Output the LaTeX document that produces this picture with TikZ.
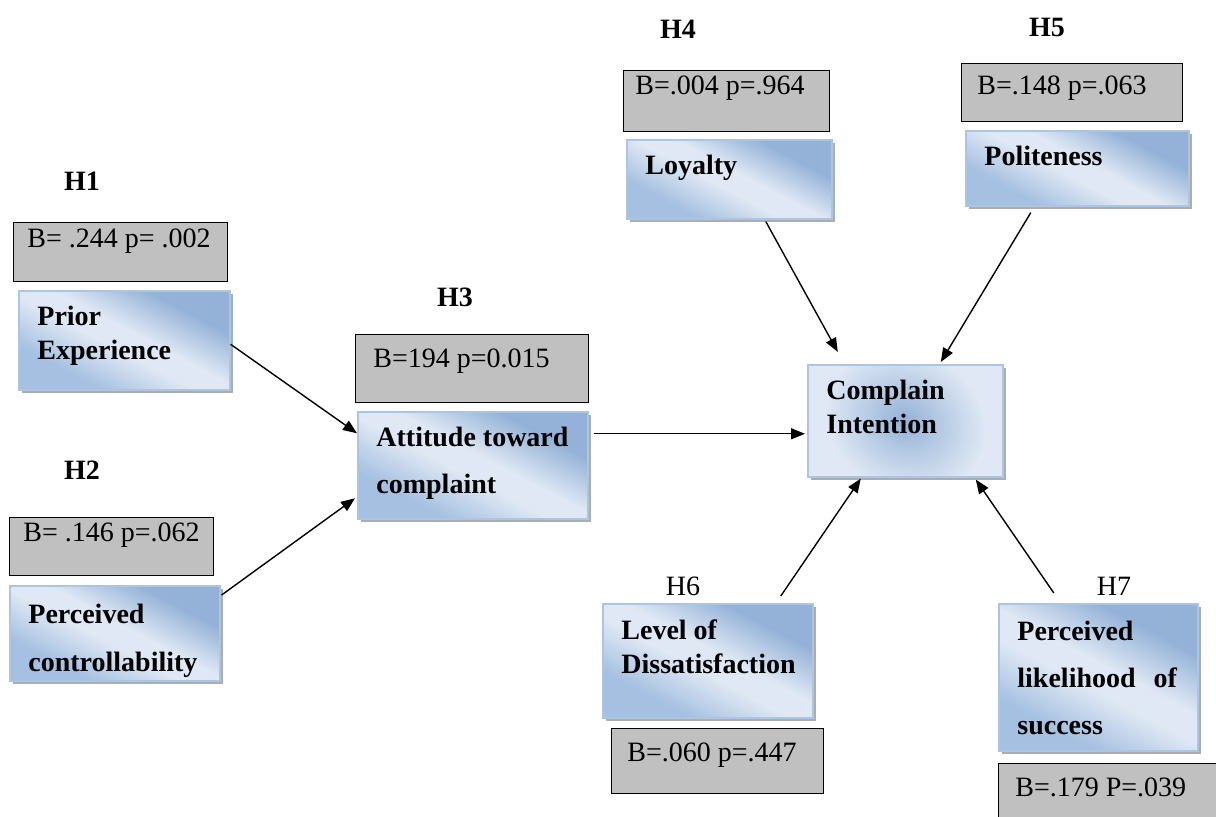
\documentclass[tikz,border=0pt]{standalone}
\usepackage{fontspec}
\setmainfont{Liberation Serif}
\usetikzlibrary{arrows.meta,calc,shadows}
\definecolor{lt}{RGB}{223,232,244}
\definecolor{md}{RGB}{165,192,225}
\definecolor{dk}{RGB}{148,178,215}
\definecolor{edge}{RGB}{172,197,228}
\definecolor{silver}{RGB}{192,192,192}
\pgfdeclarehorizontalshading{vshade}{100bp}{color(0bp)=(md); color(30bp)=(md);
  color(46bp)=(lt); color(54bp)=(lt); color(70bp)=(dk); color(100bp)=(dk)}
\tikzset{
  cons/.style={draw=edge, line width=0.8pt, shading=vshade, shading angle=62,
               anchor=north west, inner sep=0pt,
               drop shadow={shadow xshift=1.5pt, shadow yshift=-1.5pt, fill=black!40, opacity=.8}},
  coef/.style={draw, line width=0.7pt, fill=silver, anchor=north west, inner sep=0pt},
  ktxt/.style={anchor=north west, inner sep=0pt, align=left, xshift=9.5pt, yshift=-8pt,
               font=\bfseries\fontsize{14}{17}\selectfont},
  ctxt/.style={anchor=north west, inner sep=0pt, font=\fontsize{14}{17}\selectfont},
  hyp/.style={inner sep=0pt, font=\bfseries\fontsize{14}{17}\selectfont},
  lnk/.style={-{Triangle[length=7pt,width=5.5pt]}, line width=0.7pt},
}
\begin{document}
\begin{tikzpicture}[x=0.5pt,y=-0.5pt]
  \useasboundingbox (0,0) rectangle (1216,817);
  \clip (0,0) rectangle (1216,817);
  % hypotheses
  \node[hyp] (h1) at (82,181) {H1};
  \node[hyp] (h2) at (82,470) {H2};
  \node[hyp] (h3) at (455,297) {H3};
  \node[hyp] (h4) at (678,29) {H4};
  \node[hyp] (h5) at (1047,27) {H5};
  \node[hyp,font=\fontsize{14}{17}\selectfont] (h6) at (683,586) {H6};
  \node[hyp,font=\fontsize{14}{17}\selectfont] (h7) at (1114,586) {H7};
  % coefficients
  \node[coef,minimum width=107pt,minimum height=29.5pt,
        label={[ctxt,xshift=7pt,yshift=-3pt]north west:B= .244 p= .002}] (c1) at (13,222) {};
  \node[coef,minimum width=102pt,minimum height=29pt,
        label={[ctxt,xshift=7pt,yshift=-2.5pt]north west:B= .146 p=.062}] (c2) at (9,517) {};
  \node[coef,minimum width=116.5pt,minimum height=34pt,
        label={[ctxt,xshift=9pt,yshift=-7pt]north west:B=194 p=0.015}] (c3) at (355,334) {};
  \node[coef,minimum width=103pt,minimum height=30.5pt,
        label={[ctxt,xshift=6pt,yshift=-2.5pt]north west:B=.004 p=.964}] (c4) at (623,70) {};
  \node[coef,minimum width=110.5pt,minimum height=29pt,
        label={[ctxt,xshift=8pt,yshift=-6pt]north west:B=.148 p=.063}] (c5) at (961,63) {};
  \node[coef,minimum width=106pt,minimum height=32.5pt,
        label={[ctxt,xshift=8pt,yshift=-7pt]north west:B=.060 p=.447}] (c6) at (611,728) {};
  \node[coef,minimum width=115pt,minimum height=40pt,
        label={[ctxt,xshift=8.5pt,yshift=-7pt]north west:B=.179 P=.039}] (c7) at (998,763) {};
  % constructs
  \node[cons,minimum width=105.5pt,minimum height=49.5pt,
        label={[ktxt]north west:Prior\\Experience}] (prior) at (18,290) {};
  \node[cons,minimum width=105pt,minimum height=47.5pt,
        label={[ktxt,yshift=-1.5pt,font=\bfseries\fontsize{14}{24}\selectfont]north west:Perceived\\controllability}] (ctrl) at (9,585) {};
  \node[cons,minimum width=115pt,minimum height=53.5pt,
        label={[ktxt,font=\bfseries\fontsize{14}{23.5}\selectfont]north west:Attitude toward\\complaint}] (att) at (357,411) {};
  \node[cons,minimum width=102.5pt,minimum height=39.5pt,
        label={[ktxt]north west:Loyalty}] (loy) at (626,139) {};
  \node[cons,minimum width=111.5pt,minimum height=37.5pt,
        label={[ktxt]north west:Politeness}] (pol) at (965,130) {};
  \node[cons,shading=radial,inner color=dk,outer color=lt,minimum width=97.5pt,minimum height=56pt,
        label={[ktxt]north west:Complain\\Intention}] (ci) at (807,364) {};
  \node[cons,minimum width=105pt,minimum height=57pt,
        label={[ktxt]north west:Level of\\Dissatisfaction}] (lvl) at (602,603) {};
  \node[cons,minimum width=99.5pt,minimum height=73.5pt,
        label={[ktxt,yshift=-1pt,font=\bfseries\fontsize{14}{23.5}\selectfont]north west:Perceived\\likelihood\hspace{9pt}of\\success}] (pls) at (998,603) {};
  % paths
  \draw[lnk] ($(prior.east)+(0,4)$) -- ($(att.west)+(0,-32)$);
  \draw[lnk] ($(ctrl.north east)+(1,10)$) -- ($(att.west)+(-2,33)$);
  \draw[lnk] ($(att.east)+(5,-31.5)$) -- ($(ci.west)+(-2,13)$);
  \draw[lnk] ($(loy.south)+(36.5,2)$) -- ($(ci.north)+(-67.5,-12)$);
  \draw[lnk] ($(pol.south)+(-46.5,6)$) -- ($(ci.north)+(35.5,-2)$);
  \draw[lnk] ($(lvl.north)+(73,-7)$) -- ($(ci.south)+(-44.5,1)$);
  \draw[lnk] ($(pls.north)+(-44.5,-10)$) -- ($(ci.south)+(70.5,2)$);
\end{tikzpicture}
\end{document}
